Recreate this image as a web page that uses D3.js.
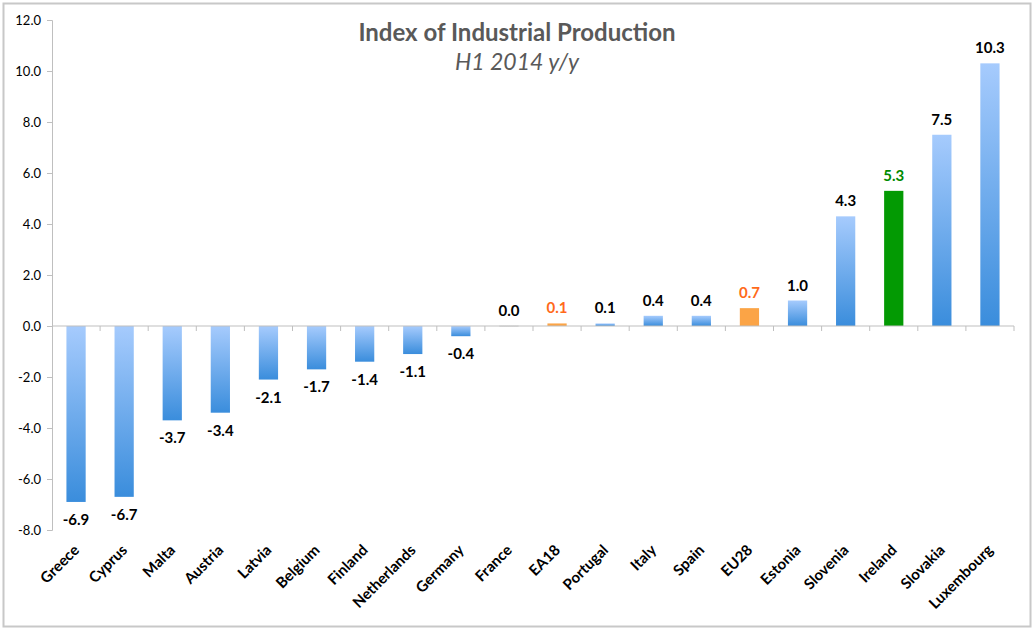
<!DOCTYPE html>
<html>
<head>
<meta charset="utf-8">
<script src="https://cdn.jsdelivr.net/npm/d3@7"></script>
<style>
  body { margin: 0; background: #fff; }
  svg { display: block; }
</style>
</head>
<body>
<svg id="chart" width="1034" height="630"></svg>
<script>
// Index of Industrial Production, H1 2014 y/y
const countries = ["Greece", "Cyprus", "Malta", "Austria", "Latvia", "Belgium", "Finland", "Netherlands",
    "Germany", "France", "EA18", "Portugal", "Italy", "Spain", "EU28", "Estonia", "Slovenia", "Ireland",
    "Slovakia", "Luxembourg"];
const values = [-6.9, -6.7, -3.7, -3.4, -2.1, -1.7, -1.4, -1.1, -0.4, 0.0, 0.1, 0.1, 0.4, 0.4, 0.7, 1.0,
    4.3, 5.3, 7.5, 10.3];
const yTicks = [-8, -6, -4, -2, 0, 2, 4, 6, 8, 10, 12];
const aggregates = ["EA18", "EU28"];
const highlight = ["Ireland"];

const data = countries.map((c, i) => ({ name: c, value: values[i] }));

// plain hyphen for negatives, like the spreadsheet does
const fmt = v => d3.format(".1f")(v).replace("\u2212", "-");

const svg = d3.select("#chart");
const W = 1034, H = 630;
const margin = { left: 52, right: 20, top: 20, bottom: 100 };
const font = "Lato, 'Open Sans', sans-serif";

// outer frame
svg.append("rect")
    .attr("x", 3.5).attr("y", 3.5)
    .attr("width", W - 7).attr("height", H - 7)
    .attr("fill", "#fff")
    .attr("stroke", "#c8c8c8")
    .attr("stroke-width", 2);

const x = d3.scaleBand()
    .domain(countries)
    .range([margin.left, 1014]);

const y = d3.scaleLinear()
    .domain([-8, 12])
    .range([530, margin.top]);

const defs = svg.append("defs");
const grad = defs.append("linearGradient")
    .attr("id", "blueGrad")
    .attr("x1", 0).attr("y1", 0).attr("x2", 0).attr("y2", 1);
grad.append("stop").attr("offset", "0%").attr("stop-color", "#a6cbfd");
grad.append("stop").attr("offset", "100%").attr("stop-color", "#3a8ddc");

const grayGrad = defs.append("linearGradient")
    .attr("id", "grayGrad")
    .attr("x1", 0).attr("y1", 0).attr("x2", 0).attr("y2", 1);
grayGrad.append("stop").attr("offset", "0%").attr("stop-color", "#f2f2f2");
grayGrad.append("stop").attr("offset", "100%").attr("stop-color", "#dcdcdc");

function barFill(d) {
    if (highlight.includes(d.name)) return "#039a03";
    if (aggregates.includes(d.name)) return "#fba446";
    if (d.value === 0) return "url(#grayGrad)";
    return "url(#blueGrad)";
}
function labelFill(d) {
    if (highlight.includes(d.name)) return "#008a00";
    if (aggregates.includes(d.name)) return "#ff6a1a";
    return "#000";
}

// y axis
const yAxis = d3.axisLeft(y)
    .tickValues(yTicks)
    .tickSize(5)
    .tickFormat(fmt);
const gy = svg.append("g")
    .attr("transform", `translate(${margin.left},0)`)
    .call(yAxis);
gy.select(".domain").attr("stroke", "#bfbfbf");
gy.selectAll(".tick line").attr("stroke", "#bfbfbf");
gy.selectAll(".tick text")
    .attr("x", -11)
    .attr("font-family", font)
    .attr("font-size", 13)
    .attr("fill", "#000");

// bars
const barW = x.bandwidth() * 0.4;
svg.append("g").selectAll("rect")
    .data(data)
    .join("rect")
    .attr("x", d => x(d.name) + (x.bandwidth() - barW) / 2)
    .attr("y", d => d.value === 0 ? y(0) - 1 : y(Math.max(0, d.value)))
    .attr("width", barW)
    .attr("height", d => d.value === 0 ? 2 : Math.abs(y(d.value) - y(0)))
    .attr("fill", barFill);

// zero line with tick marks at band edges
const zero = svg.append("g").attr("transform", `translate(0,${y(0)})`);
zero.append("line")
    .attr("x1", margin.left).attr("x2", 1014)
    .attr("stroke", "#bfbfbf");
zero.selectAll("line.tk")
    .data(countries.slice(1).concat(["__end"]))
    .join("line")
    .attr("class", "tk")
    .attr("x1", d => d === "__end" ? 1014 : x(d))
    .attr("x2", d => d === "__end" ? 1014 : x(d))
    .attr("y1", 0).attr("y2", 5)
    .attr("stroke", "#bfbfbf");

// value labels
svg.append("g").selectAll("text")
    .data(data)
    .join("text")
    .attr("x", d => x(d.name) + x.bandwidth() / 2)
    .attr("y", d => d.value >= 0 ? y(d.value) - 10 : y(d.value) + 23)
    .attr("text-anchor", "middle")
    .attr("font-family", font)
    .attr("font-weight", "bold")
    .attr("font-size", 15)
    .attr("fill", labelFill)
    .text(d => fmt(d.value));

// category labels
svg.append("g").selectAll("text")
    .data(data)
    .join("text")
    .attr("transform", d => `translate(${x(d.name) + x.bandwidth() / 2 + 4},${551}) rotate(-45)`)
    .attr("text-anchor", "end")
    .attr("font-family", font)
    .attr("font-weight", "bold")
    .attr("font-size", 15)
    .attr("fill", "#000")
    .text(d => d.name);

// title
svg.append("text")
    .attr("x", 517).attr("y", 41)
    .attr("text-anchor", "middle")
    .attr("font-family", font)
    .attr("font-weight", "bold")
    .attr("font-size", 24)
    .attr("fill", "#595959")
    .text("Index of Industrial Production");
svg.append("text")
    .attr("x", 517).attr("y", 70)
    .attr("text-anchor", "middle")
    .attr("font-family", font)
    .attr("font-style", "italic")
    .attr("font-size", 23)
    .attr("fill", "#595959")
    .text("H1 2014 y/y");
</script>
</body>
</html>
